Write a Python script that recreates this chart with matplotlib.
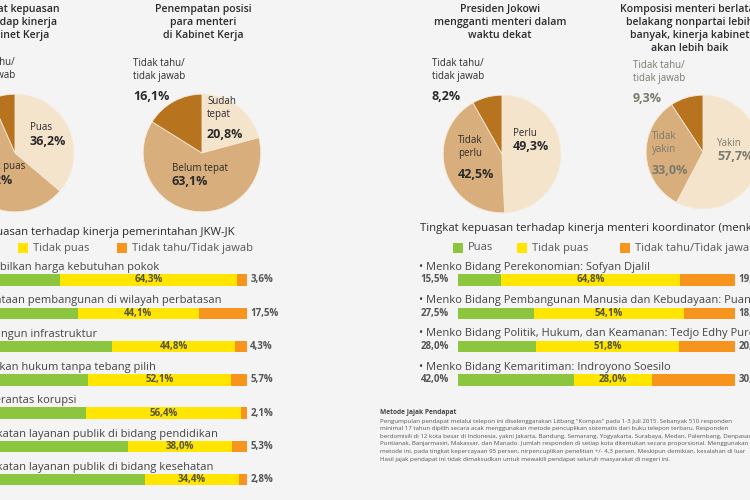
import matplotlib.pyplot as plt
from matplotlib.patches import Rectangle

plt.rcParams['font.family'] = ['Open Sans', 'DejaVu Sans']

# ---- data ----
pie_titles = ['Tingkat kepuasan\nterhadap kinerja\nKabinet Kerja',
              'Penempatan posisi\npara menteri\ndi Kabinet Kerja',
              'Presiden Jokowi\nmengganti menteri dalam\nwaktu dekat',
              'Komposisi menteri berlatar\nbelakang nonpartai lebih\nbanyak, kinerja kabinet\nakan lebih baik']
pie1_labels = ['Puas', 'Tidak puas', 'Tidak tahu/\ntidak jawab']
pie1_vals = [36.2, 57.2, 6.6]
pie2_labels = ['Sudah\ntepat', 'Belum tepat', 'Tidak tahu/\ntidak jawab']
pie2_vals = [20.8, 63.1, 16.1]
pie3_labels = ['Perlu', 'Tidak\nperlu', 'Tidak tahu/\ntidak jawab']
pie3_vals = [49.3, 42.5, 8.2]
pie4_labels = ['Yakin', 'Tidak\nyakin', 'Tidak tahu/\ntidak jawab']
pie4_vals = [57.7, 33.0, 9.3]

left_title = 'Tingkat kepuasan terhadap kinerja pemerintahan JKW-JK'
left_items = ['Menstabilkan harga kebutuhan pokok',
              'Pemerataan pembangunan di wilayah perbatasan',
              'Membangun infrastruktur',
              'Penegakan hukum tanpa tebang pilih',
              'Memberantas korupsi',
              'Peningkatan layanan publik di bidang pendidikan',
              'Peningkatan layanan publik di bidang kesehatan']
left_puas = [32.1, 38.4, 50.9, 42.2, 41.5, 56.7, 62.8]
left_tidak = [64.3, 44.1, 44.8, 52.1, 56.4, 38.0, 34.4]
left_tt = [3.6, 17.5, 4.3, 5.7, 2.1, 5.3, 2.8]

right_title = 'Tingkat kepuasan terhadap kinerja menteri koordinator (menko)'
right_items = ['Menko Bidang Perekonomian: Sofyan Djalil',
               'Menko Bidang Pembangunan Manusia dan Kebudayaan: Puan Maharani',
               'Menko Bidang Politik, Hukum, dan Keamanan: Tedjo Edhy Purdijatno',
               'Menko Bidang Kemaritiman: Indroyono Soesilo']
right_puas = [15.5, 27.5, 28.0, 42.0]
right_tidak = [64.8, 54.1, 51.8, 28.0]
right_tt = [19.7, 18.4, 20.2, 30.0]

legend_names = ['Puas', 'Tidak puas', 'Tidak tahu/Tidak jawab']

note_title = 'Metode Jajak Pendapat'
note_lines = [
    'Pengumpulan pendapat melalui telepon ini diselenggarakan Litbang "Kompas" pada 1-3 Juli 2015. Sebanyak 510 responden',
    'minimal 17 tahun dipilih secara acak menggunakan metode pencuplikan sistematis dari buku telepon terbaru. Responden',
    'berdomisili di 12 kota besar di Indonesia, yakni Jakarta, Bandung, Semarang, Yogyakarta, Surabaya, Medan, Palembang, Denpasar,',
    'Pontianak, Banjarmasin, Makassar, dan Manado. Jumlah responden di setiap kota ditentukan secara proporsional. Menggunakan',
    'metode ini, pada tingkat kepercayaan 95 persen, nirpencuplikan penelitian +/- 4,3 persen. Meskipun demikian, kesalahan di luar',
    'Hasil jajak pendapat ini tidak dimaksudkan untuk mewakili pendapat seluruh masyarakat di negeri ini.',
]

# ---- style ----
bg = '#f4f4f4'
c_light, c_mid, c_dark = '#f4e4cc', '#d8ae7c', '#b8731f'
c_green, c_yellow, c_orange = '#8cc63f', '#ffe500', '#f7941d'
txt = '#2b2b2b'

W, H = 750, 500
fig = plt.figure(figsize=(7.5, 5), dpi=100, facecolor=bg)

# ---- pies ----
pies = [(pie1_labels, pie1_vals, 15, 153, 60),
        (pie2_labels, pie2_vals, 202, 153, 60),
        (pie3_labels, pie3_vals, 502, 154, 60),
        (pie4_labels, pie4_vals, 703, 152, 58)]
for labels, vals, cx, cy, r in pies:
    pa = fig.add_axes([(cx - r) / W, 1 - (cy + r) / H, 2 * r / W, 2 * r / H])
    pa.pie(vals, colors=[c_light, c_mid, c_dark], startangle=90, counterclock=False,
           wedgeprops=dict(edgecolor='#f6ead8', linewidth=0.6))
    pa.set_xlim(-1.02, 1.02)
    pa.set_ylim(-1.02, 1.02)
    pa.set_aspect('auto')
    pa.axis('off')

# text layer on top of everything
ax = fig.add_axes([0, 0, 1, 1])
ax.set_zorder(10)
ax.patch.set_visible(False)
ax.set_xlim(0, W)
ax.set_ylim(H, 0)
ax.axis('off')

title_x = [15, 203, 500, 690]
label_pos = [[(30, 128), (-24, 167), (-37, 69)],
             [(207, 108), (172, 168), (133, 70)],
             [(513, 133), (458, 147), (432, 70)],
             [(717, 143), (652, 143), (633, 72)]]
label_col = [txt, txt, txt, '#7a7a6e']

for k, (labels, vals, cx, cy, r) in enumerate(pies):
    ax.text(title_x[k], 4, pie_titles[k], ha='center', va='top', fontsize=7.6,
            fontweight='semibold', color=txt, linespacing=1.25)
    for (lx, ly), name, v in zip(label_pos[k], labels, vals):
        n = name.count('\n') + 1
        ax.text(lx, ly, name, ha='left', va='center', fontsize=7, color=label_col[k],
                linespacing=1.35)
        ax.text(lx, ly + n * 13.5, ('%.1f%%' % v).replace('.', ','), ha='left', va='center',
                fontsize=9, fontweight='bold', color=label_col[k])


def legend(x0s, y):
    for x0, name, c in zip(x0s, legend_names, [c_green, c_yellow, c_orange]):
        ax.add_patch(Rectangle((x0, y - 5), 10, 10, color=c, lw=0))
        ax.text(x0 + 15, y, name, ha='left', va='center', fontsize=8, color='#555555')


def fmt(v):
    return ('%.1f%%' % v).replace('.', ',')


# ---- left bars ----
ax.text(235, 232, left_title, ha='right', va='center', fontsize=8.2, color=txt)
legend([-46, 18, 117], 248)
n = len(left_items)
la = fig.add_axes([-28 / W, 1 - (280 + 33.3 * (n - 1) + 16.6) / H, 275 / W, (33.3 * n) / H])
la.set_facecolor('none')
rows = list(range(n))
la.barh(rows, left_puas, height=0.34, color=c_green)
la.barh(rows, left_tidak, left=left_puas, height=0.34, color=c_yellow)
la.barh(rows, left_tt, left=[a + b for a, b in zip(left_puas, left_tidak)], height=0.34, color=c_orange)
la.set_xlim(0, 100)
la.set_ylim(n - 0.5, -0.5)
la.axis('off')
for i in rows:
    la.text(-4, i - 0.37, left_items[i], ha='left', va='center', fontsize=8, color='#444444')
    la.text(left_puas[i] + left_tidak[i] / 2, i, fmt(left_tidak[i]), ha='center', va='center',
            fontsize=7, fontweight='bold', color='#555533')
    la.text(101.2, i, fmt(left_tt[i]), ha='left', va='center', fontsize=7, fontweight='bold',
            color='#555555')

# ---- right bars ----
ax.text(420, 228, right_title, ha='left', va='center', fontsize=8.2, color=txt)
legend([453, 517, 620], 248)
m = len(right_items)
ra = fig.add_axes([458 / W, 1 - (280 + 33.3 * (m - 1) + 16.6) / H, 277 / W, (33.3 * m) / H])
ra.set_facecolor('none')
rrows = list(range(m))
ra.barh(rrows, right_puas, height=0.34, color=c_green)
ra.barh(rrows, right_tidak, left=right_puas, height=0.34, color=c_yellow)
ra.barh(rrows, right_tt, left=[a + b for a, b in zip(right_puas, right_tidak)], height=0.34, color=c_orange)
ra.set_xlim(0, 100)
ra.set_ylim(m - 0.5, -0.5)
ra.axis('off')
for i in rrows:
    ra.text(-14, i - 0.38, '\u2022 ' + right_items[i], ha='left', va='center', fontsize=8,
            color='#444444')
    ra.text(-13.5, i, fmt(right_puas[i]), ha='left', va='center', fontsize=7, fontweight='bold',
            color='#555555')
    ra.text(right_puas[i] + right_tidak[i] / 2, i, fmt(right_tidak[i]), ha='center', va='center',
            fontsize=7, fontweight='bold', color='#555533')
    ra.text(101.2, i, fmt(right_tt[i]), ha='left', va='center', fontsize=7, fontweight='bold',
            color='#555555')

# ---- note ----
ax.text(380, 413, note_title, ha='left', va='center', fontsize=4.8, fontweight='bold', color='#444444')
for j, line in enumerate(note_lines):
    ax.text(380, 421 + j * 7.6, line, ha='left', va='center', fontsize=4.4, color='#555555')

fig.savefig('out.png', dpi=100, facecolor=bg)
